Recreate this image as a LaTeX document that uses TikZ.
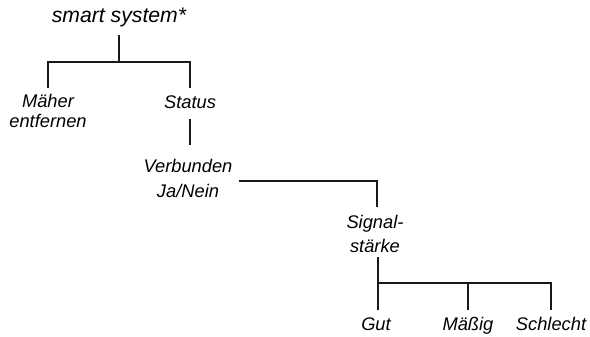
\documentclass[tikz,border=0pt]{standalone}
\usepackage{fontspec}
\setmainfont{Liberation Sans}
\usepackage{tikz}

\begin{document}
\begin{tikzpicture}[x=1pt,y=-1pt,
  lbl/.style={font=\itshape\fontsize{18.3}{18.5}\selectfont, inner sep=0pt, outer sep=0pt, align=center, anchor=base},
  link/.style={line width=1.7pt, color=black!90}]
\useasboundingbox (0,0) rectangle (590,337);

\node (root) at (119,23) [lbl, font=\itshape\fontsize{21.2}{22}\selectfont]{smart system*};

\node (maeher) at (48,128) [lbl]{Mäher\\[1.5pt]entfernen};
\node (status) at (190,109) [lbl]{Status};

\node (verbunden) at (188,197) [lbl]{Verbunden\\[6.5pt]Ja/Nein};

\node (signal) at (375,252) [lbl]{Signal-\\[5.5pt]stärke};

\node (gut) at (376,330) [lbl]{Gut};
\node (maessig) at (468,330) [lbl]{Mäßig};
\node (schlecht) at (551,330) [lbl]{Schlecht};

\coordinate (j1) at (119,62);
\coordinate (j2) at (377,181);
\coordinate (j3) at (378,283);

\draw [link] (j1 |- 0,35) -- (j1);
\draw [link] (j1) -| (48,88);
\draw [link] (j1) -| (190,88);

\draw [link] (190,119) -- (190,145);

\draw [link] ([xshift=7pt]verbunden.east |- j2) -- (j2) -- (j2 |- 0,207);

\draw [link] (j3 |- 0,257) -- (j3) -- (j3 |- 0,310);
\draw [link] (j3) -| (maessig.north |- 0,310);
\draw [link] (j3) -| (schlecht.north |- 0,310);

\end{tikzpicture}
\end{document}
